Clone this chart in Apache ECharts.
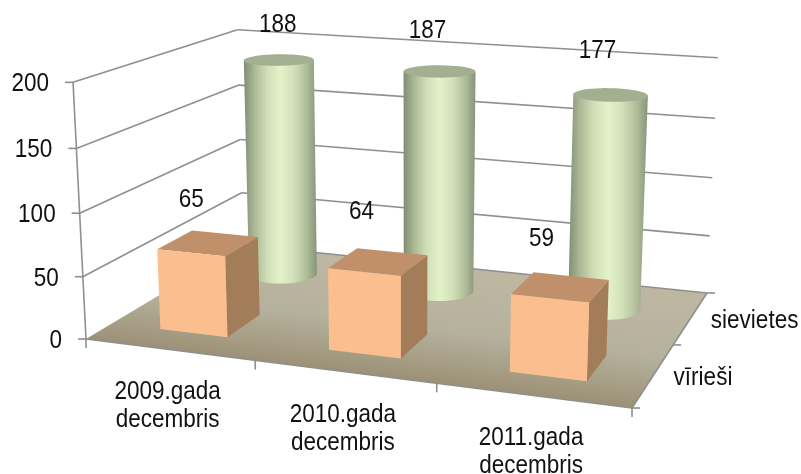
<!DOCTYPE html>
<html>
<head>
<meta charset="utf-8">
<title>chart</title>
<script src="https://cdn.jsdelivr.net/npm/echarts@6/dist/echarts.min.js"></script>
<style>
html, body { margin: 0; padding: 0; background: #fff; }
#main { width: 801px; height: 474px; }
</style>
</head>
<body>
<div id="main"></div>
<script>
var categories = ['2009.gada\ndecembris', '2010.gada\ndecembris', '2011.gada\ndecembris'];
var depthNames = ['vīrieši', 'sievietes'];
var valueTicks = [0, 50, 100, 150, 200];
var women = [188, 187, 177];
var men = [65, 64, 59];

// screen corners of the floor: front-left, front-right, back-right, back-left
var floorCorners = [[86, 339], [632, 408], [707, 293], [243, 245]];
// verticals meet far below the picture, wall height in px at the front-left corner
var VANISH = [409, 6732];
var WALL_HEIGHT = 257;
var HEIGHT_BEND = 0.04;
var FONT = '22.5px "Liberation Sans", Arial, sans-serif';
var GRID_COLOR = '#8f8f8f';
// excel placed the data labels by hand, so they do not sit evenly over the marks
var womenLabelShift = [[-1, -35], [-12, -40], [-13, -44]];
var menLabelShift = [[-17, -43], [-17, -50], [-19, -48]];

function squareToQuad(p) {
    var dx1 = p[1][0] - p[2][0], dx2 = p[3][0] - p[2][0], sx = p[0][0] - p[1][0] + p[2][0] - p[3][0];
    var dy1 = p[1][1] - p[2][1], dy2 = p[3][1] - p[2][1], sy = p[0][1] - p[1][1] + p[2][1] - p[3][1];
    var den = dx1 * dy2 - dx2 * dy1;
    var g = (sx * dy2 - dx2 * sy) / den;
    var h = (dx1 * sy - sx * dy1) / den;
    var a = p[1][0] - p[0][0] + g * p[1][0], b = p[3][0] - p[0][0] + h * p[3][0], c = p[0][0];
    var d = p[1][1] - p[0][1] + g * p[1][1], e = p[3][1] - p[0][1] + h * p[3][1], f = p[0][1];
    return function (u, w) {
        var q = g * u + h * w + 1;
        return [(a * u + b * w + c) / q, (d * u + e * w + f) / q, q];
    };
}
var floorMap = squareToQuad(floorCorners);

// u: along categories 0..1, v: height 0..1, w: depth 0..1
function project(u, v, w) {
    var f = floorMap(u, w);
    var dx = f[0] - VANISH[0], dy = f[1] - VANISH[1];
    var len = Math.sqrt(dx * dx + dy * dy);
    var px = v / (1 + HEIGHT_BEND * (1 - v)) * WALL_HEIGHT / f[2];
    return [f[0] + dx / len * px, f[1] + dy / len * px];
}

// read the axis scales back as 0..1 so the 3d projection works from them
function norm(params, api, cat, val) {
    var sys = params.coordSys;
    var pt = api.coord([cat, val]);
    return { u: (pt[0] - sys.x) / sys.width, v: (sys.y + sys.height - pt[1]) / sys.height };
}
function bandU(params, api) {
    return api.size([1, 0])[0] / params.coordSys.width;
}
function depthCenter(i) {
    return (i + 0.5) / depthNames.length;
}
function line(a, b, color, width) {
    return {
        type: 'line',
        shape: { x1: a[0], y1: a[1], x2: b[0], y2: b[1] },
        style: { stroke: color || GRID_COLOR, lineWidth: width || 1.6 }
    };
}
function poly(points, fill) {
    return { type: 'polygon', shape: { points: points }, style: { fill: fill } };
}
// reference glyphs are a little taller than the font, hence scaleY
function label(text, x, y, align) {
    return {
        type: 'text',
        x: x,
        y: y,
        scaleY: 1.12,
        style: { text: text, x: 0, y: 0, font: FONT, fill: '#111', align: align || 'center', verticalAlign: 'middle', lineHeight: 25 }
    };
}

function renderFloor() {
    var pts = [project(0, 0, 0), project(1, 0, 0), project(1, 0, 1), project(0, 0, 1)];
    var mid = project(0.5, 0, 0);
    return {
        type: 'group',
        children: [
            // shading runs square to the front edge
            poly(pts, new echarts.graphic.LinearGradient(mid[0], mid[1], mid[0] + 13, mid[1] - 104, [
                { offset: 0, color: '#9c9176' },
                { offset: 0.5, color: '#b5b19d' },
                { offset: 1, color: '#bdb6a1' }
            ], true)),
            line(pts[0], pts[1]),
            line(pts[1], pts[2]),
            line(pts[3], pts[2])
        ]
    };
}

function renderWalls(params, api) {
    var n = norm(params, api, 0, api.value(1));
    var a = project(0, n.v, 0), b = project(0, n.v, 1), c = project(1, n.v, 1);
    var kids = [
        line([a[0] - 8, a[1]], a),
        label(String(api.value(1)), a[0] - 24, a[1] + 2, 'right')
    ];
    // the floor edge itself carries no grid line
    if (n.v > 0) {
        kids.push(line(a, b), line(b, c));
    }
    return { type: 'group', children: kids };
}

function renderFrame(params, api) {
    var kids = [line(project(0, 0, 0), project(0, 1, 0))];
    var i, p;
    for (i = 0; i <= categories.length; i++) {
        p = project(i / categories.length, 0, 0);
        kids.push(line(p, [p[0], p[1] + 9]));
    }
    for (i = 0; i < categories.length; i++) {
        p = project(norm(params, api, i, 0).u, 0, 0);
        kids.push(label(categories[i], p[0] - 1.5, p[1] + 57));
    }
    for (i = 0; i <= depthNames.length; i++) {
        p = project(1, 0, i / depthNames.length);
        kids.push(line(p, [p[0] + 8, p[1]]));
    }
    for (i = 0; i < depthNames.length; i++) {
        p = project(1, 0, depthCenter(i));
        kids.push(label(depthNames[i], p[0] + 20, p[1] + 3, 'left'));
    }
    return { type: 'group', children: kids };
}

function circle(u, v, w, ru, rw) {
    var out = [];
    for (var k = 0; k < 48; k++) {
        var t = k / 48 * Math.PI * 2;
        out.push(project(u + ru * Math.cos(t), v, w + rw * Math.sin(t)));
    }
    return out;
}
function extreme(pts, dir) {
    var best = pts[0];
    pts.forEach(function (p) {
        if ((p[0] - best[0]) * dir > 0) best = p;
    });
    return best;
}

function renderCylinder(params, api) {
    var i = api.value(0);
    var n = norm(params, api, i, api.value(1));
    var w = depthCenter(1);
    var ru = bandU(params, api) * 0.205, rw = 0.105;
    var topC = circle(n.u, n.v, w, ru, rw), botC = circle(n.u, 0, w, ru, rw);
    var tl = extreme(topC, -1), tr = extreme(topC, 1), bl = extreme(botC, -1), br = extreme(botC, 1);
    var grad = new echarts.graphic.LinearGradient(Math.min(tl[0], bl[0]), 0, Math.max(tr[0], br[0]), 0, [
        { offset: 0, color: '#7f8c74' },
        { offset: 0.14, color: '#a9b793' },
        { offset: 0.32, color: '#d1dfb8' },
        { offset: 0.5, color: '#e3f2c8' },
        { offset: 0.68, color: '#d3e1ba' },
        { offset: 0.88, color: '#aab895' },
        { offset: 1, color: '#86937b' }
    ], true);
    var c = project(n.u, n.v, w);
    return {
        type: 'group',
        children: [
            poly(botC, grad),
            poly([tl, tr, br, bl], grad),
            poly(topC, '#a4af92'),
            label(String(api.value(1)), c[0] + womenLabelShift[i][0], c[1] + womenLabelShift[i][1])
        ]
    };
}

function renderBox(params, api) {
    var i = api.value(0);
    var n = norm(params, api, i, api.value(1));
    var w = depthCenter(0);
    var ru = bandU(params, api) * 0.203, rw = 0.105;
    var u0 = n.u - ru, u1 = n.u + ru, w0 = w - rw, w1 = w + rw;
    var c = project(n.u, n.v, w);
    return {
        type: 'group',
        children: [
            poly([project(u1, 0, w0), project(u1, 0, w1), project(u1, n.v, w1), project(u1, n.v, w0)], '#a37c5a'),
            poly([project(u0, n.v, w0), project(u1, n.v, w0), project(u1, n.v, w1), project(u0, n.v, w1)], '#bf9069'),
            poly([project(u0, 0, w0), project(u1, 0, w0), project(u1, n.v, w0), project(u0, n.v, w0)], '#fbbe8e'),
            label(String(api.value(1)), c[0] + menLabelShift[i][0], c[1] + menLabelShift[i][1])
        ]
    };
}

function pairs(values) {
    return values.map(function (v, i) { return [i, v]; });
}

var option = {
    animation: false,
    backgroundColor: '#fff',
    grid: { left: 100, right: 100, top: 50, bottom: 50 },
    xAxis: { type: 'category', data: categories, show: false },
    yAxis: { type: 'value', min: 0, max: 200, interval: 50, show: false },
    series: [
        { name: 'floor', type: 'custom', renderItem: renderFloor, data: [[0, 0]], silent: true, z: 1 },
        { name: 'walls', type: 'custom', renderItem: renderWalls, data: valueTicks.map(function (v) { return [0, v]; }), silent: true, z: 2 },
        { name: 'frame', type: 'custom', renderItem: renderFrame, data: [[0, 0]], silent: true, z: 3 },
        { name: depthNames[1], type: 'custom', renderItem: renderCylinder, data: pairs(women), z: 4 },
        { name: depthNames[0], type: 'custom', renderItem: renderBox, data: pairs(men), z: 5 }
    ]
};

var chart = echarts.init(document.getElementById('main'));
chart.setOption(option);
</script>
</body>
</html>
